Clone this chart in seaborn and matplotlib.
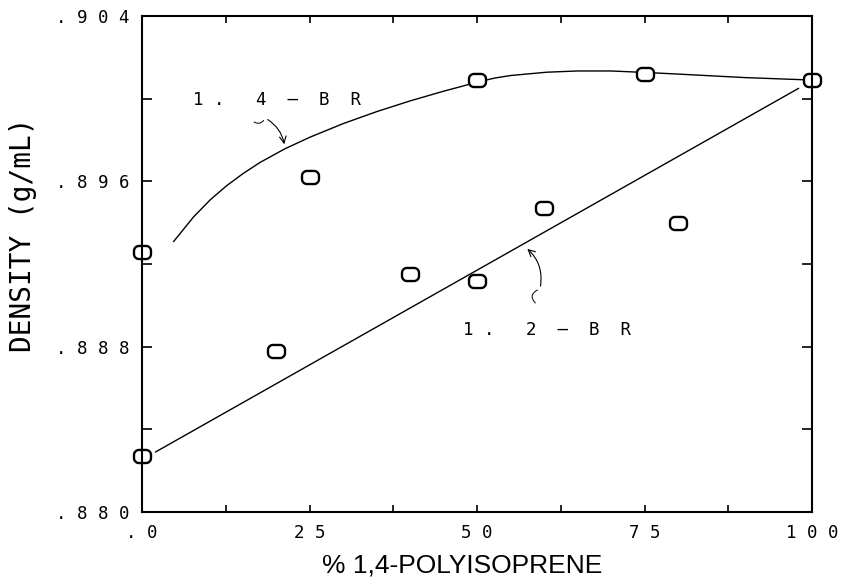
import numpy as np
import matplotlib
matplotlib.use("Agg")
import matplotlib.pyplot as plt
from matplotlib.path import Path
from matplotlib.ticker import FixedLocator, MultipleLocator
import seaborn as sns

# Measured densities of the polyisoprene / polybutadiene blends
pct_14pi = [0, 0, 20, 25, 40, 50, 50, 60, 75, 80, 100]
density = [0.8827, 0.8926, 0.8878, 0.8962, 0.8915, 0.8912,
           0.9009, 0.8947, 0.9012, 0.8940, 0.9009]

# Smooth trend through the 1,4-BR blends
br14_x = [4.7, 7.7, 10.2, 12.6, 15.1, 17.6, 21.3, 25.1, 30.0, 35.0, 40.0,
          45.0, 48.0, 50.0, 52.7, 55.0, 60.4, 65.0, 70.0, 75.0, 80.0,
          90.0, 100.0]
br14_y = [0.89308, 0.89428, 0.89511, 0.89578, 0.89638, 0.89691, 0.89757,
          0.89814, 0.89879, 0.89937, 0.89989, 0.90036, 0.90062, 0.90080,
          0.90100, 0.90112, 0.90128, 0.90134, 0.90134, 0.90127, 0.90119,
          0.90102, 0.90090]

# Straight trend through the 1,2-BR blends
br12_x = [2, 98]
br12_y = [0.8829, 0.9005]

x_ticks = [0, 25, 50, 75, 100]
x_labels = [".0", "25", "50", "75", "100"]
y_ticks = [0.880, 0.888, 0.896, 0.904]
y_labels = [".880", ".888", ".896", ".904"]

MONO = ["DejaVu Sans Mono"]


def spaced(s):
    """Plotter-style lettering: wide gaps between characters."""
    return " ".join(s)


def rounded_box(w=1.3, h=1.0, r=0.38, n=9):
    verts = []
    corners = [(w / 2 - r, h / 2 - r, 0), (-w / 2 + r, h / 2 - r, 90),
               (-w / 2 + r, -h / 2 + r, 180), (w / 2 - r, -h / 2 + r, 270)]
    for cx, cy, a0 in corners:
        t = np.radians(np.linspace(a0, a0 + 90, n))
        verts += list(zip(cx + r * np.cos(t), cy + r * np.sin(t)))
    verts.append(verts[0])
    codes = [Path.MOVETO] + [Path.LINETO] * (len(verts) - 2) + [Path.CLOSEPOLY]
    return Path(verts, codes)


sns.set_theme(style="ticks")
plt.rcParams["font.family"] = ["DejaVu Sans Mono", "DejaVu Sans"]
plt.rcParams["text.color"] = "black"
plt.rcParams["xtick.color"] = "black"
plt.rcParams["ytick.color"] = "black"
plt.rcParams["xtick.labelcolor"] = "black"
plt.rcParams["ytick.labelcolor"] = "black"

fig = plt.figure(figsize=(8.52, 5.88), dpi=100)
ax = fig.add_axes([142 / 852, 1 - 512 / 588, 670 / 852, 496 / 588])

sns.lineplot(x=br14_x, y=br14_y, ax=ax, color="black", lw=1.0,
             sort=False, estimator=None, zorder=2)
sns.lineplot(x=br12_x, y=br12_y, ax=ax, color="black", lw=1.0,
             sort=False, estimator=None, zorder=2)
sns.scatterplot(x=pct_14pi, y=density, ax=ax, marker=rounded_box(), s=150,
                facecolor="white", edgecolor="black", linewidth=1.7,
                clip_on=False, zorder=2.2)

ax.set_xlim(0, 100)
ax.set_ylim(0.880, 0.904)

ax.xaxis.set_major_locator(FixedLocator(x_ticks))
ax.xaxis.set_minor_locator(MultipleLocator(12.5))
ax.set_xticklabels([spaced(t) for t in x_labels], family=MONO, fontsize=12.5)
ax.yaxis.set_major_locator(FixedLocator(y_ticks))
ax.yaxis.set_minor_locator(MultipleLocator(0.004))
ax.set_yticklabels([spaced(t) for t in y_labels], family=MONO, fontsize=12.5)

ax.tick_params(axis="both", which="both", direction="in", top=True,
               right=True, color="black", width=1.2)
ax.tick_params(axis="x", which="both", length=5, pad=9)
ax.tick_params(axis="y", which="both", length=7, pad=9)

for sp in ax.spines.values():
    sp.set_linewidth(1.5)
    sp.set_color("black")
    sp.set_zorder(3)

ax.set_xlabel("")
ax.set_ylabel("")

# Series labels with curved pointers
ax.text(7.6, 0.89994, "1 .   4  —  B  R", family=MONO, fontsize=12.5,
        ha="left", va="center")
ax.annotate("", xy=(21.3, 0.89766), xytext=(18.4, 0.89906),
            arrowprops=dict(arrowstyle="->", color="black", lw=0.8,
                            connectionstyle="arc3,rad=-0.25"))
ax.annotate("", xy=(18.4, 0.89906), xytext=(16.4, 0.89895),
            arrowprops=dict(arrowstyle="-", color="black", lw=0.7,
                            connectionstyle="arc3,rad=0.6"))

ax.text(47.9, 0.88881, "1 .   2  —  B  R", family=MONO, fontsize=12.5,
        ha="left", va="center")
ax.annotate("", xy=(57.2, 0.89282), xytext=(59.4, 0.89080),
            arrowprops=dict(arrowstyle="->", color="black", lw=0.8,
                            connectionstyle="arc3,rad=0.3"))
ax.annotate("", xy=(59.4, 0.89080), xytext=(59.0, 0.89002),
            arrowprops=dict(arrowstyle="-", color="black", lw=0.7,
                            connectionstyle="arc3,rad=-0.8"))

fig.text(23 / 852, 1 - 235 / 588, "DENSITY (g/mL)", rotation=90,
         ha="center", va="center", family=MONO, fontsize=20)
fig.text(462 / 852, 1 - 565 / 588, "% 1,4-POLYISOPRENE",
         ha="center", va="center", family=["Liberation Sans"], fontsize=19)

fig.savefig("out.png", dpi=100, facecolor="white")
